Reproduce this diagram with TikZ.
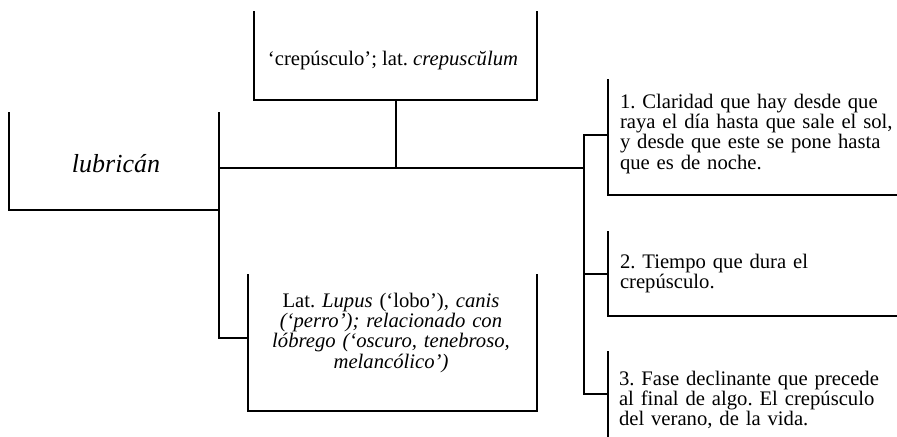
\documentclass[tikz,border=0pt]{standalone}
\usepackage{fontspec}
\setmainfont{Liberation Serif}
\usetikzlibrary{fit}
\begin{document}
\lineskiplimit=-20pt
\frenchspacing
\begin{tikzpicture}[x=0.75pt,y=-0.75pt,
  frame/.style={inner sep=0pt, outer sep=0pt, draw=none},
  ln/.style={line width=1.5pt, line cap=rect},
  txt/.style={inner sep=0pt, outer sep=0pt, font=\fontsize{15.5}{15.3}\selectfont},
  big/.style={inner sep=0pt, outer sep=0pt, font=\fontsize{19.5}{21}\selectfont\itshape}]
\useasboundingbox (0,0) rectangle (897,436);
% box frames
\node[frame, fit={(9,113) (219,210)}] (lub) {};
\node[frame, fit={(254,12) (537,100)}] (top) {};
\node[frame, fit={(248,275) (537,411)}] (lat) {};
\node[frame, fit={(607.5,80) (897,195)}] (d1) {};
\node[frame, fit={(607.5,232) (897,316)}] (d2) {};
\node[frame, fit={(607.5,352) (897,436)}] (d3) {};
\coordinate (lj) at (219,168);
\coordinate (hub) at (584,168);
% box outlines
\draw[ln] (lub.north west) |- (lub.south east) -- (lub.north east);
\draw[ln] (top.north west) |- (top.south east) -- (top.north east);
\draw[ln] (lat.north west) |- (lat.south east) -- (lat.north east);
\draw[ln] (d1.north west) |- (d1.south east);
\draw[ln] (d2.north west) |- (d2.south east);
\draw[ln] (d3.north west) -- (d3.south west);
% connectors
\draw[ln] (lj) -- (hub);
\draw[ln] (top.south) -- (top.south |- hub);
\draw[ln] (lub.south east) |- ([yshift=3.75pt]lat.west);
\draw[ln] ([yshift=1.9pt]d1.west) -| (hub) |- (d3.west);
\draw[ln] (hub |- d2.west) -- (d2.west);
% texts
\node[big, anchor=base] (lubt) at (116,172.5) {lubricán};
\node[txt, anchor=base] (topt) at (393,65) {‘crepúsculo’; lat. \textit{crepuscŭlum}};
\node[txt, anchor=base, text width=200pt, align=center] (latt) at (391,307)
  {Lat. \textit{Lupus} (‘lobo’)\textit{, canis}\\
   \textit{(‘perro’); relacionado con}\\
   \textit{lóbrego (‘oscuro, tenebroso,}\\
   \textit{melancólico’)}};
\node[txt, anchor=base west, text width=210pt, align=left] (d1t) at (620,108)
  {1. Claridad que hay desde que\\
   raya el día hasta que sale el sol,\\
   y desde que este se pone hasta\\
   que es de noche.};
\node[txt, anchor=base west, text width=210pt, align=left] (d2t) at (620,268.5)
  {2. Tiempo que dura el\\
   crepúsculo.};
\node[txt, anchor=base west, text width=210pt, align=left] (d3t) at (619,385)
  {3. Fase declinante que precede\\
   al final de algo. El crepúsculo\\
   del verano, de la vida.};
\end{tikzpicture}
\end{document}
